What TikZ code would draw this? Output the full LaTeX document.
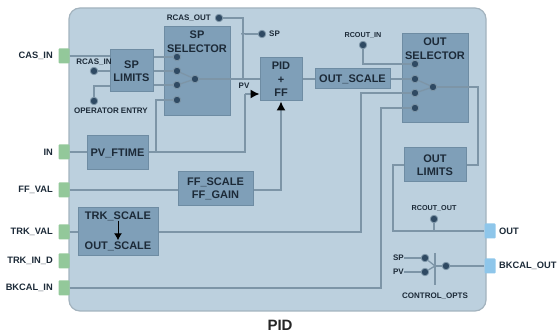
\documentclass[tikz,border=0pt]{standalone}
\usepackage{fontspec}
\setmainfont{Liberation Sans}
\usetikzlibrary{arrows.meta}
\definecolor{panelc}{HTML}{BCD0DE}
\definecolor{edgec}{HTML}{A3B3BE}
\definecolor{blockc}{HTML}{7F9FB8}
\definecolor{blockd}{HTML}{6E8CA3}
\definecolor{wirec}{HTML}{7D95A7}
\definecolor{inkc}{HTML}{1C2A38}
\definecolor{dotc}{HTML}{2F4A63}
\definecolor{greenp}{HTML}{93C89A}
\definecolor{bluep}{HTML}{8EC6EA}
\tikzset{
  x=1pt,y=-1pt,
  blockbox/.style={fill=blockc,draw=blockd,line width=1pt,inner sep=0pt,align=center,text=inkc,
    font=\bfseries\fontsize{11}{13.5}\selectfont},
  blocktext/.style={inner sep=0pt,align=center,text=inkc,font=\bfseries\fontsize{11}{13.5}\selectfont},
  small/.style={inner sep=0pt,text=inkc,font=\bfseries\fontsize{8}{9}\selectfont},
  smaller/.style={inner sep=0pt,text=inkc,font=\bfseries\fontsize{7.2}{9}\selectfont},
  portlabel/.style={inner sep=0pt,text=inkc,font=\bfseries\fontsize{9.3}{11}\selectfont},
  wire/.style={draw=wirec,line width=1.3pt},
  darrow/.style={wire,-{Latex[length=9pt,width=9pt,black]}},
  pin/.style={circle,fill=dotc,draw=wirec,line width=.8pt,minimum size=7.5pt,inner sep=0pt},
  joint/.style={circle,fill=dotc,minimum size=3.5pt,inner sep=0pt},
  inport/.style={fill=greenp,rounded corners=1pt,minimum width=11pt,minimum height=15pt,inner sep=0pt},
  outport/.style={fill=bluep,rounded corners=1pt,minimum width=11pt,minimum height=15pt,inner sep=0pt},
}
\begin{document}
\begin{tikzpicture}
\useasboundingbox (0,0) rectangle (560,336);
% panel
\draw[fill=panelc,draw=edgec,line width=1.2pt,rounded corners=11pt] (69,8) rectangle (486,311);
\node[inner sep=0pt,font=\bfseries\fontsize{15}{17}\selectfont,text=black!85] (title) at (280,325) {PID};
% ports
\node[inport] (casin) at (64,56) {};
\node[inport] (in) at (64,152) {};
\node[inport] (ffval) at (64,190) {};
\node[inport] (trkval) at (64,232) {};
\node[inport] (trkind) at (64,261) {};
\node[inport] (bkin) at (64,288) {};
\node[outport] (out) at (490,231) {};
\node[outport] (bkout) at (490,266) {};
\node[portlabel,anchor=east] (lcasin) at (53,56) {CAS\_IN};
\node[portlabel,anchor=east] (lin) at (53,152) {IN};
\node[portlabel,anchor=east] (lffval) at (53,190) {FF\_VAL};
\node[portlabel,anchor=east] (ltrkval) at (53,232) {TRK\_VAL};
\node[portlabel,anchor=east] (ltrkind) at (53,261) {TRK\_IN\_D};
\node[portlabel,anchor=east] (lbkin) at (53,288) {BKCAL\_IN};
\node[portlabel,anchor=west] (lout) at (499,231) {OUT};
\node[portlabel,anchor=west] (lbkout) at (499,266) {BKCAL\_OUT};
% blocks
\node[blockbox,minimum width=43pt,minimum height=42pt] (splim) at (131.5,71) {SP\\LIMITS};
\node[blockbox,minimum width=66pt,minimum height=89pt] (spsel) at (197,71.5) {};
\node[blocktext,anchor=north] (spselt) at (197,31) {SP\\SELECTOR};
\node[blockbox,minimum width=42pt,minimum height=43pt] (pid) at (281,79.5) {PID\\+\\FF};
\node[blockbox,minimum width=75pt,minimum height=20pt] (oscale) at (352.5,79) {OUT\_SCALE};
\node[blockbox,minimum width=66pt,minimum height=89pt] (outsel) at (435,78.5) {};
\node[blocktext,anchor=north] (outselt) at (435,38) {OUT\\SELECTOR};
\node[blockbox,minimum width=62pt,minimum height=34pt] (outlim) at (435,165) {OUT\\LIMITS};
\node[blockbox,minimum width=61pt,minimum height=34pt] (pvf) at (117.5,153) {PV\_FTIME};
\node[blockbox,minimum width=75pt,minimum height=34pt] (ffs) at (215.5,189) {FF\_SCALE\\FF\_GAIN};
\node[blockbox,minimum width=80pt,minimum height=48pt] (trk) at (118,232) {};
\node[blocktext] (trka) at (118,216) {TRK\_SCALE};
\node[blocktext] (trkb) at (118,246) {OUT\_SCALE};
% small labels
\node[small,anchor=east] (lrcasout) at (211,18) {RCAS\_OUT};
\node[small] (lrcasin) at (94,62) {RCAS\_IN};
\node[small] (lopent) at (111,111) {OPERATOR ENTRY};
\node[small,anchor=west] (lsppin) at (269,34) {SP};
\node[small] (lpvin) at (244,86) {PV};
\node[smaller] (lrcoutin) at (363,35) {RCOUT\_IN};
\node[smaller] (lrcoutout) at (434,208) {RCOUT\_OUT};
\node[small,anchor=east] (lsp) at (404,258) {SP};
\node[small,anchor=east] (lpv) at (404,272) {PV};
\node[small] (lopts) at (435,296) {CONTROL\_OPTS};
% pins
\foreach \n/\y in {a/57,b/71,c/85,d/100} \node[pin] (s\n) at (177,\y) {};
\node[pin] (so) at (195,79) {};
\foreach \n/\y in {a/64,b/79,c/93,d/108} \node[pin] (o\n) at (415,\y) {};
\node[pin] (oo) at (433,87) {};
\node[pin] (rcasout) at (219,18) {};
\node[pin] (rcasin) at (94,71) {};
\node[pin] (opent) at (94,101) {};
\node[pin] (sppin) at (262,34) {};
\node[joint] (spj) at (243,34) {};
\node[pin] (rcoutin) at (363,45) {};
\node[pin] (rcoutout) at (434,219) {};
\node[pin] (csp) at (425,258) {};
\node[pin] (cpv) at (425,272) {};
\node[pin] (cout) at (446,266) {};
% bend points
\coordinate (cj) at (435,266);
\coordinate (ctop) at (435,253);
\coordinate (cbot) at (435,285);
\coordinate (outj) at (434,231);
\coordinate (pvtap) at (156,152);
\coordinate (pvup) at (245,152);
\coordinate (pvin) at (245,94);
\coordinate (cctl) at (243,79);
\coordinate (rcbend) at (243,18);
\coordinate (opbend) at (94,86);
\coordinate (trkbend) at (361,232);
\coordinate (trktop) at (361,93);
\coordinate (bkbend) at (381,288);
\coordinate (bktop) at (381,108);
\coordinate (fbtop) at (478,87);
\coordinate (fbbot) at (478,165);
\coordinate (limbend) at (393,165);
\coordinate (limbot) at (393,231);
% connectors
\draw[wire] (casin.east) -- (casin.east -| splim.west);
\draw[wire] (rcasin) -- (rcasin -| splim.west);
\draw[wire] (opent) -- (opbend) -- (opbend -| splim.west);
\draw[wire] (sa -| splim.east) -- (sa);
\draw[wire] (sb -| splim.east) -- (sb);
\draw[wire] (sc -| splim.east) -- (sc);
\draw[wire] (so) -- (so -| pid.west);
\draw[wire] (so) -- (sb);
\draw[wire] (so) -- (sc);
\draw[wire] (rcasout) -- (rcbend) -- (cctl);
\draw[wire] (spj) -- (sppin);
\draw[wire] (in.east) -- (in.east -| pvf.west);
\draw[wire] (pvf.east |- in) -- (pvup) -- (pvin);
\draw[darrow] (pvin) -- (pid.west |- pvin);
\draw[wire] (pvtap) |- (sd);
\draw[wire] (ffval.east) -- (ffval.east -| ffs.west);
\draw[darrow] (ffs.east |- ffval) -| (pid.south);
\draw[wire] (pid.east |- oscale) -- (oscale.west);
\draw[wire] (oscale.east) -- (ob);
\draw[wire] (rcoutin) |- (oa);
\draw[wire] (trk.east |- trkval) -- (trkbend) -- (trktop) -- (oc);
\draw[wire] (trkval.east) -- (trk.west |- trkval);
\draw[wire] (bkin.east) -- (bkbend) -- (bktop) -- (od);
\draw[wire] (oo) -- (fbtop) -- (fbbot) -- (outlim.east);
\draw[wire] (oo) -- (ob);
\draw[wire] (oo) -- (oc);
\draw[wire] (outlim.west) -- (limbend) -- (limbot) -- (out.west);
\draw[wire] (rcoutout) -- (outj);
\draw[wire] (lsp.east) -- (csp);
\draw[wire] (lpv.east) -- (cpv);
\draw[wire] (csp) -- (cj);
\draw[wire] (cpv) -- (cj);
\draw[wire] (ctop) -- (cbot);
\draw[wire] (cj) -- (cout);
\draw[wire] (cout) -- (bkout.west);
\draw[-{Latex[length=7pt,width=8pt,black]},black,line width=1pt,shorten >=1pt] (trka) -- (trkb);
\end{tikzpicture}
\end{document}
